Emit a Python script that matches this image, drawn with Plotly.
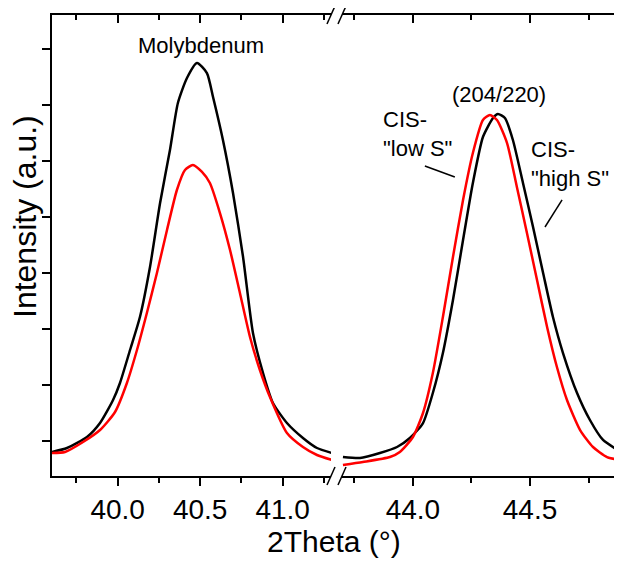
import plotly.graph_objects as go

# ---------------- data ----------------
mo_x_black = [39.602, 39.693, 39.814, 39.893, 39.972, 40.014, 40.075, 40.135, 40.196, 40.257,
              40.317, 40.365, 40.420, 40.481, 40.541, 40.578, 40.638, 40.699, 40.760, 40.820,
              40.881, 40.941, 41.026, 41.123, 41.208, 41.299]
mo_y_black = [0.804, 0.875, 1.071, 1.321, 1.732, 2.036, 2.625, 3.214, 4.107, 5.250,
              6.196, 7.036, 7.482, 7.750, 7.571, 7.143, 6.375, 5.429, 4.286, 2.929,
              2.214, 1.679, 1.321, 1.054, 0.875, 0.786]

mo_x_red = [39.602, 39.681, 39.790, 39.893, 39.984, 40.056, 40.117, 40.177, 40.238, 40.299,
            40.359, 40.408, 40.456, 40.511, 40.559, 40.620, 40.681, 40.741, 40.802, 40.862,
            40.923, 41.026, 41.123, 41.208, 41.299]
mo_y_red = [0.786, 0.804, 0.982, 1.196, 1.518, 2.036, 2.625, 3.286, 4.000, 4.768,
            5.482, 5.839, 5.929, 5.804, 5.607, 5.071, 4.411, 3.643, 2.857, 2.268,
            1.786, 1.143, 0.893, 0.750, 0.661]

cis_x_black = [43.701, 43.774, 43.859, 43.932, 43.987, 44.043, 44.085, 44.128, 44.171, 44.214,
               44.256, 44.299, 44.342, 44.363, 44.393, 44.427, 44.470, 44.513, 44.556, 44.598,
               44.641, 44.701, 44.756, 44.812, 44.893]
cis_y_black = [0.714, 0.696, 0.786, 0.893, 1.054, 1.321, 1.857, 2.571, 3.518, 4.589,
               5.607, 6.429, 6.768, 6.839, 6.768, 6.375, 5.607, 4.821, 4.000, 3.214,
               2.571, 1.857, 1.375, 1.018, 0.790]

cis_x_red = [43.701, 43.786, 43.902, 43.944, 44.000, 44.043, 44.085, 44.128, 44.171, 44.214,
             44.256, 44.299, 44.329, 44.359, 44.402, 44.444, 44.487, 44.530, 44.573, 44.615,
             44.658, 44.714, 44.769, 44.829, 44.893]
cis_y_red = [0.571, 0.625, 0.714, 0.804, 1.071, 1.500, 2.214, 3.214, 4.286, 5.304,
             6.143, 6.732, 6.821, 6.732, 6.321, 5.536, 4.714, 3.875, 3.036, 2.321,
             1.732, 1.196, 0.893, 0.714, 0.655]

left_range = [39.602, 41.293]
right_range = [43.697, 44.893]
y_range = [0.375, 8.607]

FONT = "Liberation Sans, Arial, sans-serif"
BLACK = "#000000"
RED = "#ff0000"

# The page body adds an 8 px offset; size the figure so the plot lands where the reference has it.
OFF = 8
W, H = 622 - OFF, 563 - OFF
PL, PT, PR, PB = 52, 15, 622, 476          # plot box in reference pixels
L, T = PL - OFF, PT - OFF
R, B = (622 - OFF) - (PR - OFF), H - (PB - OFF)
PW, PH = W - L - R, H - T - B

def px(xp):
    return (xp - PL) / PW

def py(yp):
    return (PB - yp) / PH

# ---------------- figure ----------------
fig = go.Figure()
line_kw = dict(width=2.5, shape="spline", smoothing=0.6)
fig.add_trace(go.Scatter(x=mo_x_black, y=mo_y_black, mode="lines",
                         line=dict(color=BLACK, **line_kw), xaxis="x", yaxis="y", showlegend=False))
fig.add_trace(go.Scatter(x=mo_x_red, y=mo_y_red, mode="lines",
                         line=dict(color=RED, **line_kw), xaxis="x", yaxis="y", showlegend=False))
fig.add_trace(go.Scatter(x=cis_x_black, y=cis_y_black, mode="lines",
                         line=dict(color=BLACK, **line_kw), xaxis="x2", yaxis="y", showlegend=False))
fig.add_trace(go.Scatter(x=cis_x_red, y=cis_y_red, mode="lines",
                         line=dict(color=RED, **line_kw), xaxis="x2", yaxis="y", showlegend=False))

# invisible helpers so the mirrored (top / right) axes are drawn
for xa, xr, ya in (("x3", left_range, "y"), ("x4", right_range, "y2")):
    fig.add_trace(go.Scatter(x=xr, y=y_range, mode="lines", line=dict(width=0, color="rgba(0,0,0,0)"),
                             hoverinfo="skip", showlegend=False, xaxis=xa, yaxis=ya))

d1 = [0, px(331)]
d2 = [px(342), 1]

tickfont = dict(family=FONT, size=28, color=BLACK)
common_x = dict(showgrid=False, zeroline=False, showline=True, linecolor=BLACK, linewidth=1.5,
                tick0=40, dtick=0.5, tickformat=".1f", ticks="outside", ticklen=8, tickwidth=1.5,
                tickcolor=BLACK, tickfont=tickfont,
                minor=dict(dtick=0.25, ticks="outside", ticklen=5, tickwidth=1.5, tickcolor=BLACK))
top_x = dict(showgrid=False, zeroline=False, showline=True, linecolor=BLACK, linewidth=1.5,
             tick0=40, dtick=0.5, ticks="inside", ticklen=8, tickwidth=1.5, tickcolor=BLACK,
             showticklabels=False, side="top", anchor="y",
             minor=dict(dtick=0.25, ticks="inside", ticklen=5, tickwidth=1.5, tickcolor=BLACK))

fig.update_layout(
    width=W, height=H,
    margin=dict(l=L, r=R, t=T, b=B, pad=0),
    paper_bgcolor="white", plot_bgcolor="white",
    font=dict(family=FONT, color=BLACK),
    xaxis=dict(domain=d1, range=left_range, anchor="y", **common_x),
    xaxis2=dict(domain=d2, range=right_range, anchor="y", **common_x),
    xaxis3=dict(overlaying="x", domain=d1, range=left_range, **top_x),
    xaxis4=dict(overlaying="x2", domain=d2, range=right_range, **top_x),
    yaxis=dict(domain=[0, 1], range=y_range, anchor="x", showgrid=False, zeroline=False,
               showline=True, linecolor=BLACK, linewidth=1.5, tick0=0, dtick=1,
               ticks="outside", ticklen=8, tickwidth=1.5, tickcolor=BLACK, showticklabels=False),
    yaxis2=dict(overlaying="y", side="right", anchor="x2", range=y_range, showgrid=False,
                zeroline=False, showline=False, tick0=0, dtick=2, ticks="inside", ticklen=8,
                tickwidth=1.5, tickcolor=BLACK, showticklabels=False,
                minor=dict(dtick=1, ticks="inside", ticklen=4, tickwidth=1.5, tickcolor=BLACK)),
)

# axis titles
fig.add_annotation(text="2Theta (°)", xref="paper", yref="paper", x=px(334), y=py(541),
                   xanchor="center", yanchor="middle", showarrow=False,
                   font=dict(family=FONT, size=30, color=BLACK))
fig.add_annotation(text="Intensity (a.u.)", xref="paper", yref="paper", x=px(25), y=py(217),
                   xanchor="center", yanchor="middle", textangle=-90, showarrow=False,
                   borderpad=0, font=dict(family=FONT, size=32, color=BLACK))

# peak labels
lab_font = dict(family=FONT, size=22, color=BLACK)
fig.add_annotation(text="Molybdenum", xref="x", yref="y", x=40.505, y=8.07,
                   xanchor="center", yanchor="middle", showarrow=False, font=lab_font)
fig.add_annotation(text="(204/220)", xref="x2", yref="y", x=44.368, y=7.196,
                   xanchor="center", yanchor="middle", showarrow=False, font=lab_font)
fig.add_annotation(text="CIS-<br>\"low S\"", xref="x2", yref="y", x=43.863, y=6.48,
                   xanchor="left", yanchor="middle", align="left", showarrow=False, font=lab_font)
fig.add_annotation(text="CIS-<br>\"high S\"", xref="x2", yref="y", x=44.496, y=5.946,
                   xanchor="left", yanchor="middle", align="left", showarrow=False, font=lab_font)

# leader lines
fig.add_shape(type="line", xref="x2", yref="y", x0=44.051, y0=5.911, x1=44.179, y1=5.714,
              line=dict(color=BLACK, width=1.5))
fig.add_shape(type="line", xref="x2", yref="y", x0=44.637, y0=5.304, x1=44.564, y1=4.821,
              line=dict(color=BLACK, width=1.5))

# axis-break marks
for ybase in (PB, PT):
    for x0p in (327, 338):
        fig.add_shape(type="line", xref="paper", yref="paper",
                      x0=px(x0p), y0=py(ybase + 9), x1=px(x0p + 8), y1=py(ybase - 9),
                      line=dict(color=BLACK, width=1.5))

fig.write_html("out.html")
